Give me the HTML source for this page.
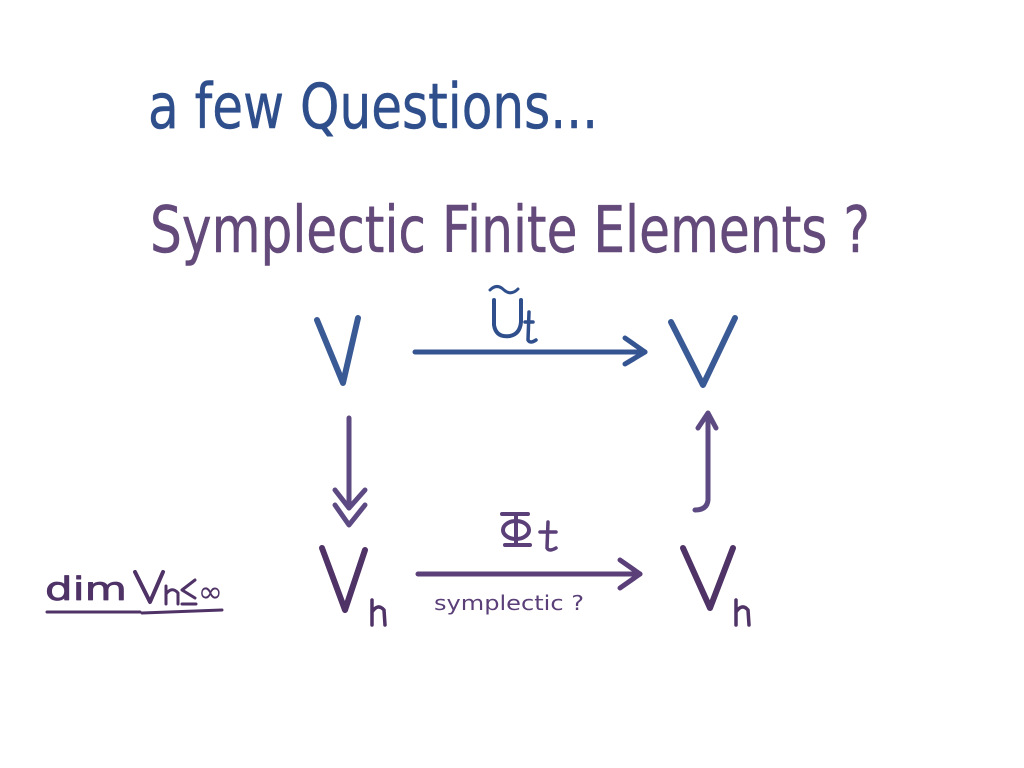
<!DOCTYPE html>
<html><head><meta charset="utf-8"><style>
html,body{margin:0;padding:0;background:#fff;width:1024px;height:768px;overflow:hidden}
svg{display:block}
text{font-family:"DejaVu Sans","Liberation Sans",sans-serif}
</style></head><body>
<svg width="1024" height="768" viewBox="0 0 1024 768" xmlns="http://www.w3.org/2000/svg">
<g stroke-linecap="round" stroke-linejoin="round" fill="none">
<!-- title -->
<text x="148" y="128" font-size="62" fill="#2f4f8c" stroke="#2f4f8c" stroke-width="0.5" textLength="450" lengthAdjust="spacingAndGlyphs">a few  Questions...</text>
<text x="150" y="252" font-size="64" fill="#634a7a" stroke="#634a7a" stroke-width="0.5" textLength="720" lengthAdjust="spacingAndGlyphs">Symplectic  Finite Elements  ?</text>
<!-- U tilde -->
<path d="M494 300 L494 325 Q496 338 510 336 Q520 334 521 322 L521 300" stroke="#2f4f8c" stroke-width="4"/>
<path d="M490 290 Q497 283 504 290 Q511 296 518 289" stroke="#2f4f8c" stroke-width="3"/>
<path d="M525 322 L533 322 M529 312 L528 340 Q530 344 536 340" stroke="#2f4f8c" stroke-width="3.5"/>
<!-- top V's -->
<path d="M317 320 L343 383 L358 318" stroke="#3a5a96" stroke-width="6"/>
<path d="M671 322 L703 385 L735 318" stroke="#3a5a96" stroke-width="6"/>
<!-- top arrow -->
<path d="M415 352 L645 352" stroke="#355592" stroke-width="5"/>
<path d="M625 338 L645 352 L625 364" stroke="#355592" stroke-width="5"/>
<!-- down arrow -->
<path d="M349 418 L349 508" stroke="#5e4a82" stroke-width="5"/>
<path d="M335 490 L349 508 L365 490 M335 505 L349 525 L365 505" stroke="#5e4a82" stroke-width="5"/>
<!-- up arrow -->
<path d="M708 416 L708 500 Q707 510 695 510 M698 428 L708 413 L716 428" stroke="#5e4a82" stroke-width="5"/>
<!-- Phi -->
<path d="M502 514 L528 514 M505 545 L530 545 M516 514 L516 545" stroke="#5a3f78" stroke-width="4"/>
<ellipse cx="516" cy="530" rx="13" ry="9" stroke="#5a3f78" stroke-width="4"/>
<path d="M540 532 L556 532 M548 522 L547 548 Q549 552 556 548" stroke="#5a3f78" stroke-width="3.5"/>
<!-- bottom arrow -->
<path d="M418 574 L640 574" stroke="#5a3f78" stroke-width="5"/>
<path d="M620 560 L640 574 L620 588" stroke="#5a3f78" stroke-width="5"/>
<text x="434" y="610" font-size="20" fill="#5a3f78" stroke="none" textLength="150" lengthAdjust="spacingAndGlyphs">symplectic ?</text>
<!-- Vh left -->
<path d="M322 548 L345 610 L365 550" stroke="#4f3266" stroke-width="6"/>
<path d="M372 600 L372 625 M372 612 Q378 603 384 610 L385 625" stroke="#4f3266" stroke-width="3.5"/>
<!-- Vh right -->
<path d="M683 548 L710 608 L733 548" stroke="#4f3266" stroke-width="6"/>
<path d="M736 600 L736 625 M736 612 Q742 603 748 610 L749 625" stroke="#4f3266" stroke-width="3.5"/>
<!-- dim Vh < inf -->
<text x="45" y="600" font-size="32" fill="#4f3266" stroke="#4f3266" stroke-width="0.8" textLength="82" lengthAdjust="spacingAndGlyphs">dim</text>
<path d="M135 572 L150 602 L163 572" stroke="#4f3266" stroke-width="4"/>
<path d="M166 586 L166 604 M166 594 Q172 586 178 593 L178 604" stroke="#4f3266" stroke-width="3"/>
<path d="M195 580 L182 590 L195 598 M182 604 L196 604" stroke="#4f3266" stroke-width="3"/>
<text x="198" y="602" font-size="30" fill="#4f3266" stroke="none">∞</text>
<path d="M47 612 L140 612 M142 613 L222 610" stroke="#4f3266" stroke-width="3"/>
</g>
</svg>
</body></html>
